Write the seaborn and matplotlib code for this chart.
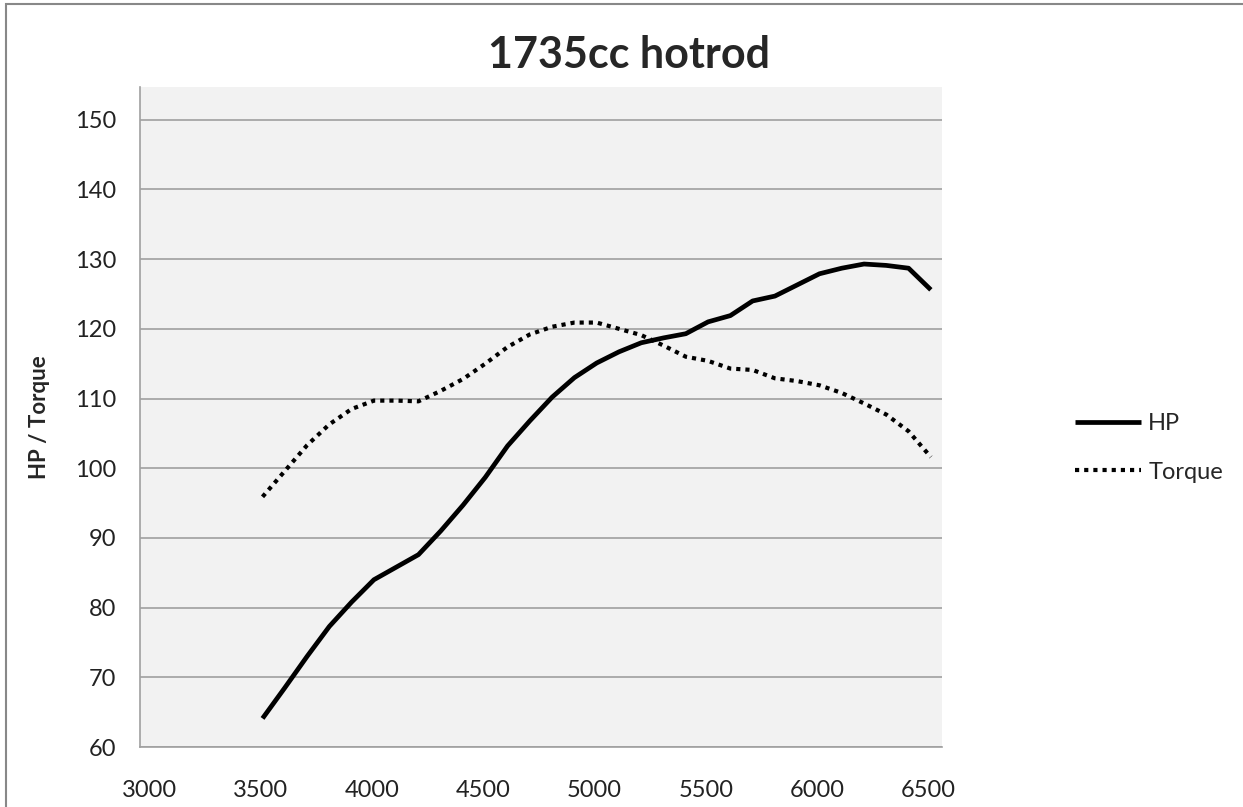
import pandas as pd
import matplotlib.pyplot as plt
import seaborn as sns
from matplotlib.patches import Rectangle
from matplotlib.transforms import ScaledTranslation

# Dyno-Daten
rpm = [3550, 3650, 3750, 3850, 3950, 4050, 4150, 4250, 4350, 4450, 4550,
       4650, 4750, 4850, 4950, 5050, 5150, 5250, 5350, 5450, 5550, 5650,
       5750, 5850, 5950, 6050, 6150, 6250, 6350, 6450, 6550]
hp = [64.1, 68.5, 73.0, 77.3, 80.8, 84.0, 85.8, 87.6, 91.0, 94.7, 98.7,
      103.2, 106.8, 110.2, 113.0, 115.1, 116.7, 118.0, 118.7, 119.3, 121.0, 121.9,
      124.0, 124.7, 126.3, 127.9, 128.7, 129.3, 129.1, 128.7, 125.6]
torque = [95.9, 99.6, 103.3, 106.3, 108.5, 109.7, 109.7, 109.6, 111.1, 112.8, 115.0,
          117.4, 119.2, 120.3, 120.9, 120.9, 120.0, 119.1, 117.6, 116.0, 115.4, 114.3,
          114.1, 112.9, 112.5, 111.9, 110.8, 109.3, 107.7, 105.3, 101.6]
x_ticks = [3000, 3500, 4000, 4500, 5000, 5500, 6000, 6500]
y_ticks = [60, 70, 80, 90, 100, 110, 120, 130, 140, 150]

df = pd.DataFrame({"rpm": rpm, "HP": hp, "Torque": torque})

sns.set_style("white")
plt.rcParams['font.family'] = ['Lato', 'DejaVu Sans']

fig = plt.figure(figsize=(12.43, 8.07), dpi=100)
ax = fig.add_axes([140 / 1243, 60 / 807, 802 / 1243, 660 / 807])
ax.set_facecolor("#f2f2f2")

sns.lineplot(data=df, x="rpm", y="HP", ax=ax, color="black", linewidth=3.4,
             label="HP", solid_capstyle="butt", solid_joinstyle="round")
sns.lineplot(data=df, x="rpm", y="Torque", ax=ax, color="black", linewidth=3.0,
             label="Torque", dashes=False)
ax.lines[1].set_dashes((1.0, 1.2))
ax.lines[1].set_dash_capstyle("butt")

ax.set_xlim(3000, 6600)
ax.set_ylim(60, 154.7)
ax.set_xticks(x_ticks)
ax.set_yticks(y_ticks)
ax.tick_params(axis="x", direction="in", length=8, color="#a0a0a0", width=1.2,
               labelsize=17, pad=23.5, labelcolor="#222222")
ax.tick_params(axis="y", length=0, labelsize=17, pad=17, labelcolor="#222222")
# x-Beschriftungen sitzen im Original etwas rechts der Striche
shift = ScaledTranslation(9 / 100, 0, fig.dpi_scale_trans)
for lbl in ax.get_xticklabels():
    lbl.set_transform(lbl.get_transform() + shift)

ax.grid(axis="y", color="#a0a0a0", linewidth=1.2)
ax.set_axisbelow(True)
for side in ["top", "right"]:
    ax.spines[side].set_visible(False)
for side in ["left", "bottom"]:
    ax.spines[side].set_color("#a0a0a0")
    ax.spines[side].set_linewidth(1.2)

ax.set_xlabel("")
ax.set_ylabel("HP / Torque", fontsize=16, fontweight="bold")
ax.yaxis.set_label_coords(-90 / 802, 0.5)

fig.text(629 / 1243, 1 - 55 / 807, "1735cc hotrod", ha="center", va="center",
         fontsize=31, fontweight="bold")

ax.get_legend().remove()
fig.legend(loc="center left", bbox_to_anchor=(1075 / 1243, 1 - 448 / 807),
           frameon=False, fontsize=17, handlelength=2.8, handletextpad=0.3,
           labelspacing=1.15, borderpad=0, borderaxespad=0)

# Rahmen um das Diagramm
fig.patches.append(Rectangle((6 / 1243, -0.05), 1.1, 1.05 - 4 / 807,
                             transform=fig.transFigure, fill=False,
                             edgecolor="#888888", linewidth=1.5))

plt.savefig("out.png", dpi=100)
plt.close()
